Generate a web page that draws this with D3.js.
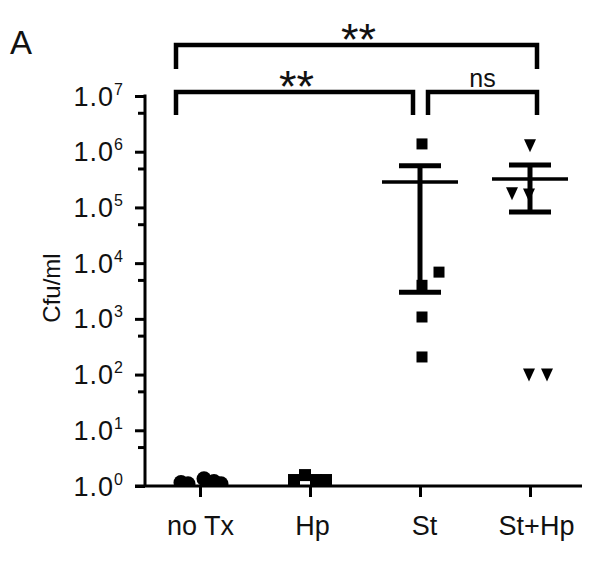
<!DOCTYPE html>
<html>
<head>
<meta charset="utf-8">
<script src="https://cdn.jsdelivr.net/npm/d3@7"></script>
<style>
	body {
		margin: 0;
		background-color: #fff;
	}
	svg {
		display: block;
		font-family: "Liberation Sans", Arial, Helvetica, sans-serif;
	}
</style>
</head>
<body>
<div id="chart"></div>
<script>
	// groups and values
	var groups = ["no Tx", "Hp", "St", "St+Hp"];
	var yTicks = [1, 10, 100, 1e3, 1e4, 1e5, 1e6, 1e7];
	var yMinor = [5, 50, 500, 5e3, 5e4, 5e5, 5e6];

	var noTx = [1.15, 1.1, 1.35, 1.2, 1.1];
	var hp = [1.28, 1.57, 1.28, 1.28];
	var st = [1.38e6, 6.9e3, 4.0e3, 1.08e3, 207];
	var stHp = [1.3e6, 1.8e5, 1.7e5, 100, 100];

	// mean +/- SEM bars
	var barGroups = ["St", "St+Hp"];
	var barMean = [2.87e5, 3.24e5];
	var barLow = [3.0e3, 8.3e4];
	var barHigh = [5.6e5, 5.8e5];

	// significance brackets
	var sigLabels = ["**", "**", "ns"];

	var width = 602, height = 561;

	var svg = d3.select("#chart").append("svg")
		.attr("width", width)
		.attr("height", height);

	var x = d3.scalePoint().domain(groups).range([200, 530]);
	var y = d3.scaleLog().domain([1, 1e7]).range([486, 96]);
	var axisX = 145;

	// clip so points sitting on the baseline are cut by it
	svg.append("clipPath").attr("id", "plotclip")
		.append("rect").attr("x", 0).attr("y", 0).attr("width", width).attr("height", y(1));

	var pts = svg.append("g").attr("clip-path", "url(#plotclip)");

	// point horizontal spread (scatter jitter)
	var jNoTx = [-19, -12, 4, 14, 21];
	var jHp = [-16, -5, 6, 16];
	var jSt = [2, 19, 2, 2, 2];
	var jStHp = [0, -18, -1, -1, 17];

	pts.selectAll("circle.notx")
		.data(noTx)
		.enter()
		.append("circle")
		.attr("class", "notx")
		.attr("cx", function(d, i){ return x("no Tx") + jNoTx[i]; })
		.attr("cy", function(d){ return y(d); })
		.attr("r", 7.5)
		.attr("fill", "#000");

	pts.selectAll("rect.hp")
		.data(hp)
		.enter()
		.append("rect")
		.attr("class", "hp")
		.attr("x", function(d, i){ return x("Hp") + jHp[i] - 6; })
		.attr("y", function(d){ return y(d) - 6; })
		.attr("width", 12)
		.attr("height", 12)
		.attr("fill", "#000");

	pts.selectAll("rect.st")
		.data(st)
		.enter()
		.append("rect")
		.attr("class", "st")
		.attr("x", function(d, i){ return x("St") + jSt[i] - 5.5; })
		.attr("y", function(d){ return y(d) - 5.5; })
		.attr("width", 11)
		.attr("height", 11)
		.attr("fill", "#000");

	pts.selectAll("path.sthp")
		.data(stHp)
		.enter()
		.append("path")
		.attr("class", "sthp")
		.attr("transform", function(d, i){
			return "translate(" + (x("St+Hp") + jStHp[i]) + "," + y(d) + ")";
		})
		.attr("d", "M-6,-6L6,-6L0,7Z")
		.attr("fill", "#000");

	// error bars
	var bars = svg.selectAll("g.bar")
		.data(barGroups)
		.enter()
		.append("g")
		.attr("class", "bar");

	bars.append("line")
		.attr("x1", function(d){ return x(d); })
		.attr("x2", function(d){ return x(d); })
		.attr("y1", function(d, i){ return y(barHigh[i]); })
		.attr("y2", function(d, i){ return y(barLow[i]); })
		.attr("stroke", "#000").attr("stroke-width", 5);

	bars.append("line")
		.attr("x1", function(d){ return x(d) - 21; })
		.attr("x2", function(d){ return x(d) + 21; })
		.attr("y1", function(d, i){ return y(barHigh[i]); })
		.attr("y2", function(d, i){ return y(barHigh[i]); })
		.attr("stroke", "#000").attr("stroke-width", 5);

	bars.append("line")
		.attr("x1", function(d){ return x(d) - 21; })
		.attr("x2", function(d){ return x(d) + 21; })
		.attr("y1", function(d, i){ return y(barLow[i]); })
		.attr("y2", function(d, i){ return y(barLow[i]); })
		.attr("stroke", "#000").attr("stroke-width", 5);

	bars.append("line")
		.attr("x1", function(d){ return x(d) - 38; })
		.attr("x2", function(d){ return x(d) + 38; })
		.attr("y1", function(d, i){ return y(barMean[i]); })
		.attr("y2", function(d, i){ return y(barMean[i]); })
		.attr("stroke", "#000").attr("stroke-width", 3.5);

	// y axis
	var yAxis = svg.append("g")
		.attr("transform", "translate(" + axisX + ",0)")
		.call(d3.axisLeft(y).tickValues(yTicks).tickFormat("").tickSize(10).tickSizeOuter(0));
	svg.append("g")
		.attr("transform", "translate(" + axisX + ",0)")
		.call(d3.axisLeft(y).tickValues(yMinor).tickFormat("").tickSize(7).tickSizeOuter(0))
		.select(".domain").remove();
	svg.selectAll(".tick line, .domain").attr("stroke", "#000").attr("stroke-width", 3);
	yAxis.select(".domain").attr("d", "M0," + (y(1e7) - 1.5) + "V" + y(1));

	var lab = svg.append("g").selectAll("text")
		.data(yTicks)
		.enter()
		.append("text")
		.attr("x", axisX - 21)
		.attr("y", function(d){ return y(d) + 9.5; })
		.attr("text-anchor", "end")
		.attr("letter-spacing", 1)
		.attr("fill", "#111")
		.attr("font-size", 27);
	lab.append("tspan").text("1.0");
	lab.append("tspan")
		.attr("font-size", 16)
		.attr("dy", -11)
		.text(function(d){ return Math.round(Math.log10(d)); });

	svg.append("text")
		.attr("transform", "translate(60,288) rotate(-90)")
		.attr("text-anchor", "middle")
		.attr("fill", "#111")
		.attr("font-size", 24)
		.text("Cfu/ml");

	// x axis
	svg.append("line")
		.attr("x1", 135).attr("x2", 582)
		.attr("y1", y(1)).attr("y2", y(1))
		.attr("stroke", "#000").attr("stroke-width", 3);
	var xAxis = svg.append("g")
		.attr("transform", "translate(0," + y(1) + ")")
		.call(d3.axisBottom(x).tickSize(11).tickSizeOuter(0).tickPadding(19));
	xAxis.select(".domain").remove();
	xAxis.selectAll(".tick line").attr("stroke", "#000").attr("stroke-width", 3);
	xAxis.selectAll(".tick text")
		.attr("font-size", 27)
		.attr("dx", function(d, i){ return i * 2; })
		.attr("font-family", "\"Liberation Sans\", Arial, sans-serif")
		.attr("fill", "#111");

	// brackets
	var brk = [
		{x1: x("no Tx") - 24, x2: x("St+Hp") + 7, top: 45, bot: 69},
		{x1: x("no Tx") - 24, x2: x("St") - 7, top: 92, bot: 115},
		{x1: x("St") + 8, x2: x("St+Hp") + 7, top: 92, bot: 115}
	];
	svg.selectAll("path.brk")
		.data(brk)
		.enter()
		.append("path")
		.attr("class", "brk")
		.attr("d", function(b){
			return "M" + b.x1 + "," + b.bot + "V" + b.top + "H" + b.x2 + "V" + b.bot;
		})
		.attr("fill", "none")
		.attr("stroke", "#000")
		.attr("stroke-width", 4.5)
		.attr("stroke-linejoin", "miter");

	svg.selectAll("text.sig")
		.data(sigLabels)
		.enter()
		.append("text")
		.attr("class", "sig")
		.attr("x", function(d, i){ return (brk[i].x1 + brk[i].x2) / 2 + (d == "ns" ? 0 : 2); })
		.attr("y", function(d, i){ return d == "ns" ? brk[i].top - 5 : brk[i].top + 10; })
		.attr("text-anchor", "middle")
		.attr("fill", "#111")
		.attr("font-size", function(d){ return d == "ns" ? 25 : 45; })
		.text(function(d){ return d; });

	svg.append("text")
		.attr("x", 10)
		.attr("y", 54)
		.attr("fill", "#111")
		.attr("font-size", 33)
		.text("A");
</script>
</body>
</html>
